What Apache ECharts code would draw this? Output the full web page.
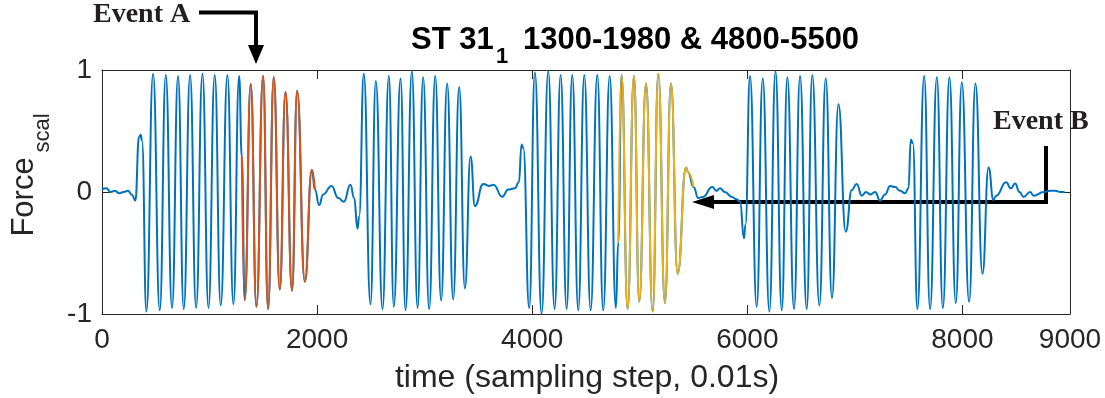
<!DOCTYPE html>
<html>
<head>
<meta charset="utf-8">
<script src="https://cdn.jsdelivr.net/npm/echarts@6/dist/echarts.min.js"></script>
<style>
html,body{margin:0;padding:0;background:#fff;}
#chart{width:1105px;height:398px;}
</style>
</head>
<body>
<div id="chart"></div>
<script>
// ---- data ----
const timeSteps = [0,40,80,120,160,200,242,279,310,344,360,372,413,475,537,593,651,707,760,819,875,934,990,1048,1104,1166,1222,1275,1300,1327,1383,1436,1498,1544,1597,1653,1706,1767,1814,1886,1951,1980,2019,2056,2134,2196,2248,2310,2344,2376,2391,2434,2496,2546,2608,2667,2713,2776,2822,2881,2934,2986,3042,3098,3153,3209,3265,3321,3374,3427,3467,3545,3600,3640,3721,3777,3838,3876,3901,3917,3972,4025,4087,4149,4208,4264,4320,4372,4428,4484,4543,4605,4660,4720,4778,4800,4831,4887,4946,4995,5058,5120,5172,5234,5290,5352,5430,5450,5500,5544,5587,5674,5713,5745,5791,5855,5901,5932,5969,5982,6025,6087,6143,6205,6262,6320,6372,6434,6490,6552,6604,6670,6729,6787,6847,6915,6971,7017,7064,7105,7141,7188,7234,7281,7327,7374,7420,7467,7498,7520,7539,7581,7644,7699,7762,7818,7879,7938,7994,8062,8121,8186,8243,8288,8314,8406,8450,8490,8530,8568,8630,8661,8756,8816,8862,8909,8950];
const forceScal = [0.02,0.03,0.00,0.01,-0.01,0.00,0.01,-0.025,-0.07,0.45,0.47,0.42,-0.98,0.97,-0.97,0.96,-0.95,0.95,-0.96,0.96,-0.95,0.97,-0.95,0.96,-0.93,0.96,-0.92,0.95,0.29,-0.885,0.885,-0.94,0.95,-0.96,0.94,-0.80,0.82,-0.81,0.83,-0.735,0.18,0.02,-0.107,-0.02,0.05,-0.05,-0.08,0.06,-0.05,-0.30,-0.20,0.97,-0.92,0.91,-0.96,0.95,-0.94,0.93,-0.97,0.99,-0.95,0.94,-0.96,0.95,-0.89,0.89,-0.88,0.86,-0.79,0.29,-0.115,0.066,0.05,0.06,-0.04,0.02,0.03,0.08,0.39,0.36,-0.95,0.98,-1.0,0.99,-0.96,0.96,-0.96,0.96,-0.97,0.96,-0.97,0.96,-0.97,0.95,-0.95,-0.41,0.96,-0.96,0.95,-0.90,0.89,-0.98,0.97,-0.91,0.89,-0.67,0.20,0.16,0.04,-0.05,-0.04,0.04,0.01,0.03,0.00,-0.04,-0.06,-0.08,-0.38,-0.27,0.95,-0.94,0.93,-0.98,0.99,-0.97,0.94,-0.96,0.95,-0.96,0.96,-0.93,0.93,-0.87,0.72,-0.325,0.016,0.066,-0.03,0.0,-0.02,0.0,-0.07,-0.02,0.05,0.04,0.01,-0.01,0.03,0.43,0.40,-0.96,0.95,-0.96,0.94,-0.95,0.94,-0.91,0.90,-0.90,0.89,-0.67,0.20,-0.065,-0.03,0.08,0.03,0.07,0.0,-0.04,0.0,-0.03,0.0,0.01,0.01,0.0,0.0];
const eventARange = [1300, 1980];
const eventBRange = [4800, 5500];
const xTickValues = [0, 2000, 4000, 6000, 8000, 9000];
const yTickValues = [-1, 0, 1];

function pairs(lo, hi) {
  const out = [];
  for (let i = 0; i < timeSteps.length; i++) {
    if (timeSteps[i] >= lo && timeSteps[i] <= hi) out.push([timeSteps[i], forceScal[i]]);
  }
  return out;
}

const chart = echarts.init(document.getElementById('chart'), null, {renderer: 'canvas'});
const axisColor = '#262626';
const sans = 'Liberation Sans, Arial, Helvetica, sans-serif';
const serif = 'Liberation Serif, Times New Roman, serif';

const common = {
  min: 0, max: 9000, type: 'value',
  axisLine: {show: true, onZero: false, lineStyle: {color: axisColor, width: 1}},
  axisTick: {show: true, inside: true, length: 9, customValues: xTickValues, lineStyle: {color: axisColor}},
  splitLine: {show: false}
};
const commonY = {
  min: -1, max: 1, interval: 1, type: 'value',
  axisLine: {show: true, onZero: false, lineStyle: {color: axisColor, width: 1}},
  axisTick: {show: true, inside: true, length: 9, lineStyle: {color: axisColor}},
  splitLine: {show: false}
};

const option = {
  animation: false,
  backgroundColor: '#ffffff',
  grid: {left: 102, right: 35, top: 70, bottom: 84, containLabel: false},
  xAxis: [
    Object.assign({}, common, {
      position: 'bottom',
      axisLabel: {show: true, customValues: xTickValues, formatter: v => String(v), color: axisColor, fontSize: 28, fontFamily: sans, margin: 12}
    }),
    Object.assign({}, common, {position: 'top', axisLabel: {show: false}})
  ],
  yAxis: [
    Object.assign({}, commonY, {
      position: 'left',
      axisLabel: {show: true, customValues: yTickValues, formatter: v => String(v), color: axisColor, fontSize: 28, fontFamily: sans, margin: 10}
    }),
    Object.assign({}, commonY, {position: 'right', axisLabel: {show: false}})
  ],
  series: [
    {type: 'line', data: pairs(0, 9000), showSymbol: false, smooth: 0.5, smoothMonotone: 'x',
     lineStyle: {color: '#0072BD', width: 2}, z: 2},
    {type: 'line', data: pairs(eventARange[0], eventARange[1]), showSymbol: false, smooth: 0.5, smoothMonotone: 'x',
     lineStyle: {color: '#D95319', width: 2}, z: 3},
    {type: 'line', data: pairs(eventBRange[0], eventBRange[1]), showSymbol: false, smooth: 0.5, smoothMonotone: 'x',
     lineStyle: {color: '#EDB120', width: 2}, z: 3}
  ],
  graphic: [
    // title
    {type: 'text', x: 411, y: 40, style: {text: 'ST 31', fontSize: 31, fontWeight: 'bold', fontFamily: sans, fill: '#000', align: 'left', verticalAlign: 'middle'}},
    {type: 'text', x: 496, y: 57, style: {text: '1', fontSize: 22, fontWeight: 'bold', fontFamily: sans, fill: '#000', align: 'left', verticalAlign: 'middle'}},
    {type: 'text', x: 523, y: 40, style: {text: '1300-1980 & 4800-5500', fontSize: 31, fontWeight: 'bold', fontFamily: sans, fill: '#000', align: 'left', verticalAlign: 'middle'}},
    // y axis name
    {type: 'text', x: 24, y: 197, rotation: Math.PI / 2, style: {text: 'Force', fontSize: 31, fontFamily: sans, fill: axisColor, align: 'center', verticalAlign: 'middle'}},
    {type: 'text', x: 43, y: 133, rotation: Math.PI / 2, style: {text: 'scal', fontSize: 22, fontFamily: sans, fill: axisColor, align: 'center', verticalAlign: 'middle'}},
    // x axis name
    {type: 'text', x: 587, y: 378, style: {text: 'time (sampling step, 0.01s)', fontSize: 32, fontFamily: sans, fill: axisColor, align: 'center', verticalAlign: 'middle'}},
    // Event A
    {type: 'text', x: 93, y: 15, style: {text: 'Event A', fontSize: 28, fontWeight: 'bold', fontFamily: serif, fill: '#231f20', align: 'left', verticalAlign: 'middle'}},
    {type: 'polyline', shape: {points: [[199, 12.5], [256, 12.5], [256, 48]]}, style: {stroke: '#000', lineWidth: 4, fill: null}},
    {type: 'polygon', shape: {points: [[248, 45], [264, 45], [256, 64]]}, style: {fill: '#000'}},
    // Event B
    {type: 'text', x: 993, y: 122, style: {text: 'Event B', fontSize: 28, fontWeight: 'bold', fontFamily: serif, fill: '#231f20', align: 'left', verticalAlign: 'middle'}},
    {type: 'polyline', shape: {points: [[1046, 146], [1046, 202], [712, 202]]}, style: {stroke: '#000', lineWidth: 4, fill: null}},
    {type: 'polygon', shape: {points: [[714, 195], [714, 209], [692, 202]]}, style: {fill: '#000'}}
  ]
};
chart.setOption(option);
</script>
</body>
</html>
